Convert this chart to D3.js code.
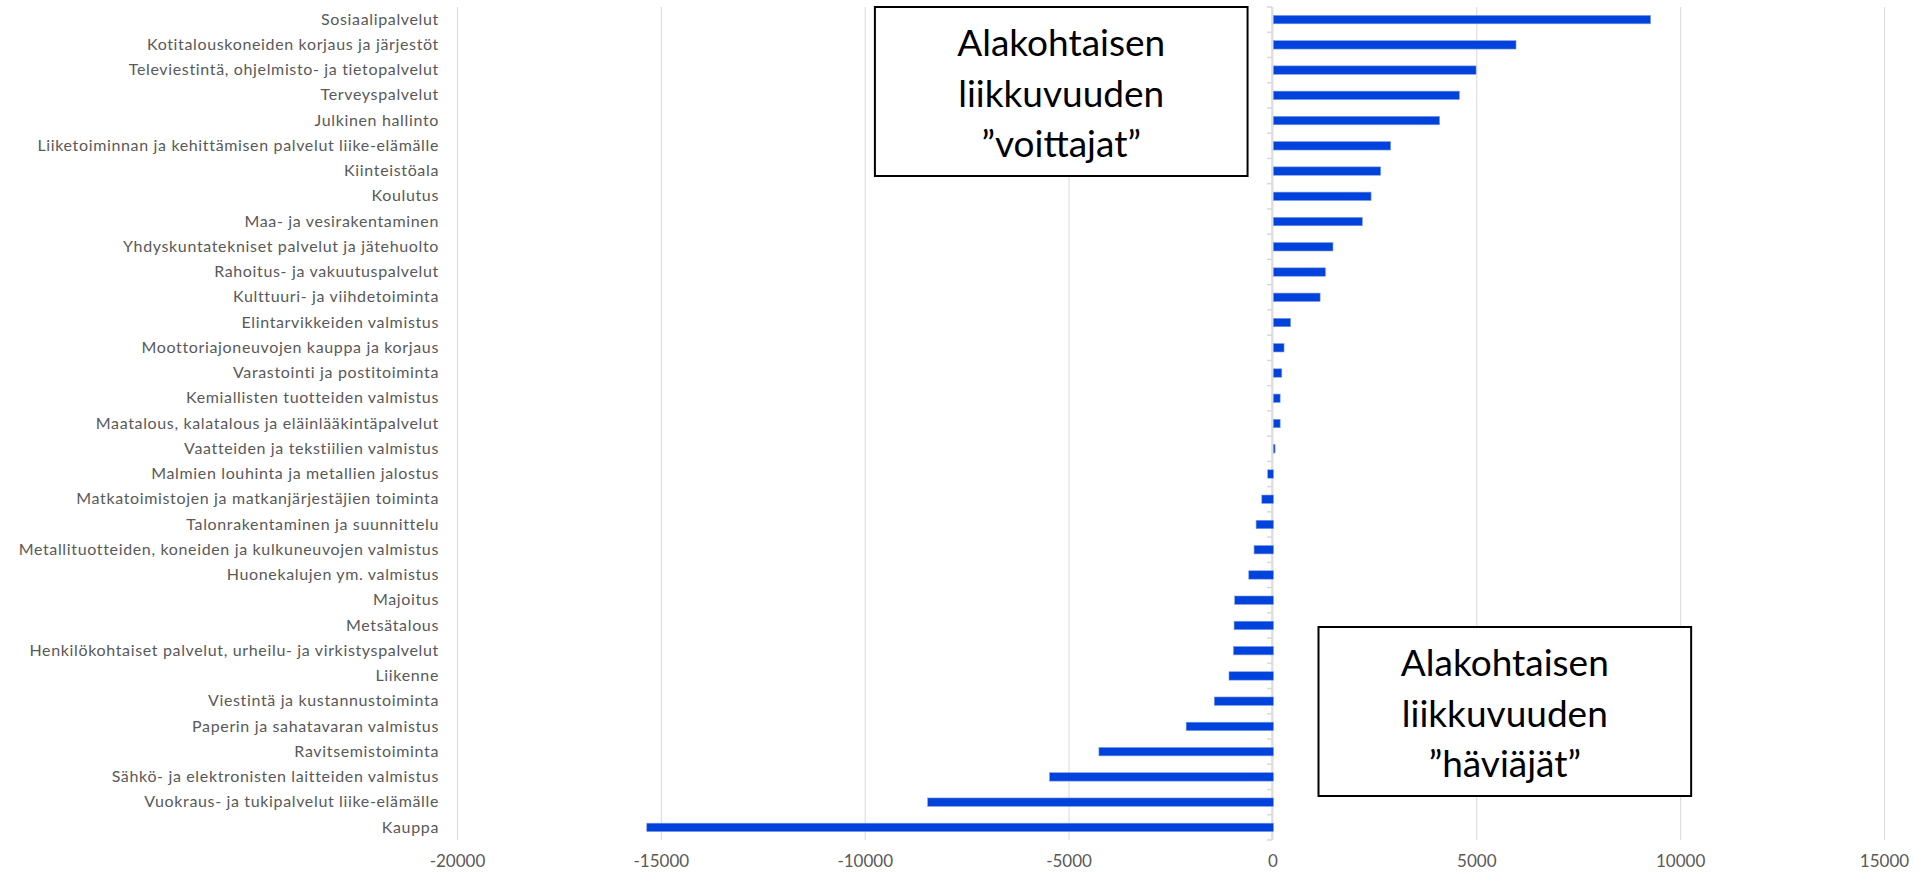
<!DOCTYPE html>
<html>
<head>
<meta charset="utf-8">
<script src="https://cdn.jsdelivr.net/npm/d3@7"></script>
<style>
  body { margin: 0; background: #fff; }
  svg { display: block; font-family: Lato, "Open Sans", sans-serif; }
</style>
</head>
<body>
<div id="chart"></div>
<script>
const categories = [
  "Sosiaalipalvelut",
  "Kotitalouskoneiden korjaus ja järjestöt",
  "Televiestintä, ohjelmisto- ja tietopalvelut",
  "Terveyspalvelut",
  "Julkinen hallinto",
  "Liiketoiminnan ja kehittämisen palvelut liike-elämälle",
  "Kiinteistöala",
  "Koulutus",
  "Maa- ja vesirakentaminen",
  "Yhdyskuntatekniset palvelut ja jätehuolto",
  "Rahoitus- ja vakuutuspalvelut",
  "Kulttuuri- ja viihdetoiminta",
  "Elintarvikkeiden valmistus",
  "Moottoriajoneuvojen kauppa ja korjaus",
  "Varastointi ja postitoiminta",
  "Kemiallisten tuotteiden valmistus",
  "Maatalous, kalatalous ja eläinlääkintäpalvelut",
  "Vaatteiden ja tekstiilien valmistus",
  "Malmien louhinta ja metallien jalostus",
  "Matkatoimistojen ja matkanjärjestäjien toiminta",
  "Talonrakentaminen ja suunnittelu",
  "Metallituotteiden, koneiden ja kulkuneuvojen valmistus",
  "Huonekalujen ym. valmistus",
  "Majoitus",
  "Metsätalous",
  "Henkilökohtaiset palvelut, urheilu- ja virkistyspalvelut",
  "Liikenne",
  "Viestintä ja kustannustoiminta",
  "Paperin ja sahatavaran valmistus",
  "Ravitsemistoiminta",
  "Sähkö- ja elektronisten laitteiden valmistus",
  "Vuokraus- ja tukipalvelut liike-elämälle",
  "Kauppa"
];

const values = [
  9250, 5950, 4970, 4560, 4075, 2875, 2630, 2395, 2180, 1460, 1275, 1145,
  420, 260, 205, 165, 165, 40, -140, -285, -425, -475, -605, -950, -965,
  -980, -1090, -1450, -2140, -4280, -5490, -8480, -15370
];

const xTicks = [-20000, -15000, -10000, -5000, 0, 5000, 10000, 15000];

const boxWinners = ["Alakohtaisen", "liikkuvuuden", "\u201Dvoittajat\u201D"];
const boxLosers = ["Alakohtaisen", "liikkuvuuden", "\u201Dhäviäjät\u201D"];

const data = categories.map((c, i) => ({ name: c, value: values[i] }));

let W = 1928, H = 878;
let margin = { top: 7, right: 44, bottom: 38, left: 457 },
    width = W - margin.left - margin.right,
    height = H - margin.top - margin.bottom;

let svg = d3.select("#chart").append("svg")
    .attr("width", W)
    .attr("height", H);

let g = svg.append("g")
    .attr("transform", "translate(" + margin.left + "," + margin.top + ")");

let x = d3.scaleLinear()
    .domain([-20000, 15000])
    .range([0, width]);

let y = d3.scaleBand()
    .domain(categories)
    .range([0, height])
    .paddingInner(0.667)
    .paddingOuter(0.333);

// koko rivi (ilman väliä) tick-viivoja varten
let yRow = d3.scaleBand()
    .domain(categories)
    .range([0, height]);

// gridlines + x tick labels
let xAxis = g.append("g")
    .attr("transform", "translate(0," + height + ")")
    .call(d3.axisBottom(x).tickValues(xTicks).tickFormat(d => String(d))
        .tickSize(-height).tickSizeOuter(0).tickPadding(15));
xAxis.select(".domain").remove();
xAxis.selectAll(".tick line").attr("stroke", "#d9d9d9").attr("stroke-width", 1);
xAxis.selectAll(".tick text")
    .attr("fill", "#595959")
    .style("font-size", "17px")
    .style("font-family", "Lato, sans-serif");

// category labels on the left
let yAxis = g.append("g")
    .call(d3.axisLeft(y).tickSize(0).tickPadding(18));
yAxis.select(".domain").remove();
yAxis.selectAll(".tick text")
    .attr("fill", "#595959")
    .style("font-size", "16px")
    .style("letter-spacing", "0.65px")
    .style("font-family", "Lato, sans-serif");

// zero axis line with small tick marks between categories
let zero = g.append("g").attr("transform", "translate(" + Math.round(x(0)) + ",0)");
zero.append("line")
    .attr("y1", 0).attr("y2", height)
    .attr("stroke", "#d9d9d9").attr("stroke-width", 1.5);
zero.selectAll(".rowtick")
    .data(categories.concat(["__end"]))
    .enter().append("line")
    .attr("class", "rowtick")
    .attr("x1", -5).attr("x2", 0)
    .attr("y1", d => d === "__end" ? height : yRow(d))
    .attr("y2", d => d === "__end" ? height : yRow(d))
    .attr("stroke", "#d9d9d9").attr("stroke-width", 1.5);

// bars
g.selectAll(".bar")
    .data(data)
    .enter().append("rect")
    .attr("class", "bar")
    .attr("x", d => x(Math.min(0, d.value)) + 1)
    .attr("y", d => y(d.name))
    .attr("width", d => Math.max(1, Math.abs(x(d.value) - x(0))))
    .attr("height", y.bandwidth())
    .attr("fill", "#0043dc")
    .attr("stroke", "#7d9be6")
    .attr("stroke-width", 0.6);

// annotation boxes
function textBox(lines, x0, x1, y0, y1) {
    let b = svg.append("g");
    b.append("rect")
        .attr("x", x0).attr("y", y0)
        .attr("width", x1 - x0).attr("height", y1 - y0)
        .attr("fill", "#fff")
        .attr("stroke", "#000")
        .attr("stroke-width", 2);
    b.selectAll("text")
        .data(lines)
        .enter().append("text")
        .attr("x", (x0 + x1) / 2)
        .attr("y", (d, i) => y0 + 49 + i * 50.5)
        .attr("text-anchor", "middle")
        .attr("fill", "#000")
        .style("font-size", "37px")
        .style("font-family", "Lato, sans-serif")
        .text(d => d);
}

textBox(boxWinners,
    margin.left + x(-9750), margin.left + x(-610), 7, 176);
textBox(boxLosers,
    margin.left + x(1130), margin.left + x(10270), 627, 796);
</script>
</body>
</html>
